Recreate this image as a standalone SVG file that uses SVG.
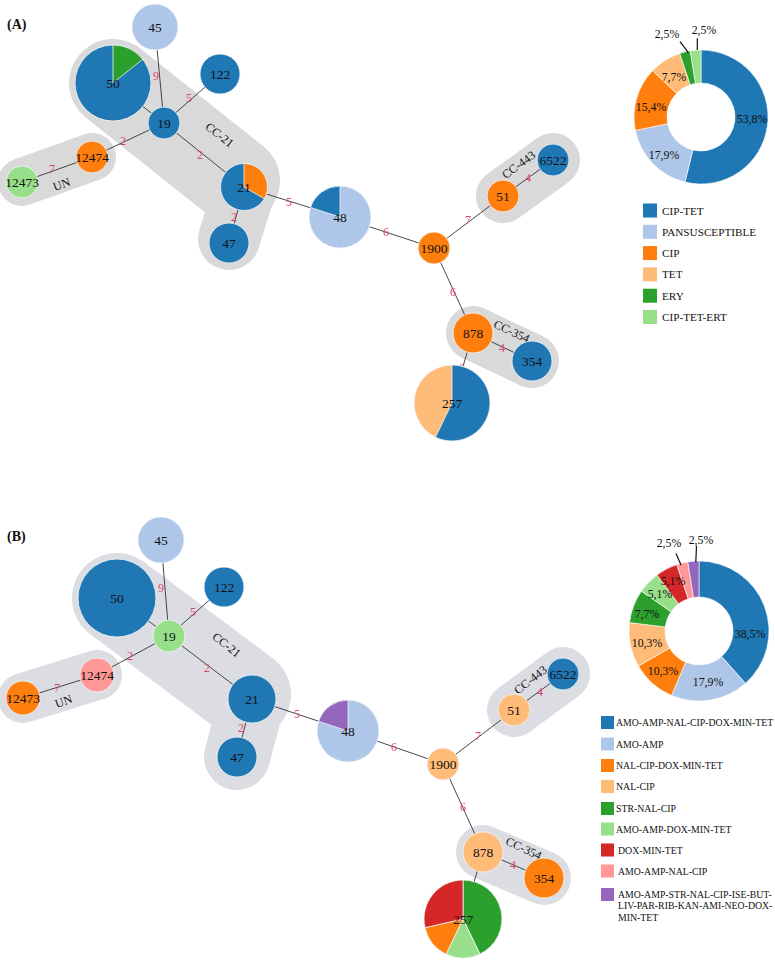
<svg xmlns="http://www.w3.org/2000/svg" width="775" height="964" viewBox="0 0 775 964" font-family="'Liberation Serif', serif">
<style>
text{font-family:"Liberation Serif",serif;fill:#111}
.pl{font-size:14px;font-weight:bold}
.nl{font-size:13.5px;text-anchor:middle}
.el{font-size:12px;fill:#e0456b;text-anchor:middle}
.hl{font-size:12px;text-anchor:middle}
.pc{font-size:11.8px;text-anchor:middle}
.lgA{font-size:11.2px}
.lgB{font-size:9.8px}
.e{stroke:#333;stroke-width:0.9;fill:none}
.hA{stroke:#d9d9d9;fill:none;stroke-linecap:round;stroke-linejoin:round}
.hB{stroke:#dcdde2;fill:none;stroke-linecap:round;stroke-linejoin:round}
.n circle,.n path{stroke:#f2f5f8;stroke-width:0.8}
.s path{stroke:#fff;stroke-width:0.6}
.db{fill:#1f77b4}.lb{fill:#aec7e8}.or{fill:#ff7f0e}.lo{fill:#ffbb78}
.gr{fill:#2ca02c}.lg{fill:#98df8a}.rd{fill:#d62728}.pk{fill:#ff9896}.pu{fill:#9467bd}
.ld{stroke:#111;stroke-width:1.2}
</style>

<!-- ================= PANEL A ================= -->
<text class="pl" x="7" y="29">(A)</text>
<g id="hulls-A">
  <path class="hA" stroke-width="88" d="M113,83 L236,180.7"/>
  <path class="hA" stroke-width="62" d="M246,185 L229,239"/>
  <path class="hA" stroke-width="48" d="M22,182 L92,157"/>
  <path class="hA" stroke-width="54" d="M503,196 L553,160"/>
  <path class="hA" stroke-width="54" d="M473,333 L532,361"/>
</g>
<g id="connectors-A">
  <line class="e" x1="155" y1="27" x2="164" y2="123"/>
  <line class="e" x1="113" y1="83" x2="164" y2="123"/>
  <line class="e" x1="220" y1="74" x2="164" y2="123"/>
  <line class="e" x1="164" y1="123" x2="92" y2="157"/>
  <line class="e" x1="92" y1="157" x2="22" y2="182"/>
  <line class="e" x1="164" y1="123" x2="244" y2="187"/>
  <line class="e" x1="244" y1="187" x2="229" y2="243"/>
  <line class="e" x1="244" y1="187" x2="340" y2="217"/>
  <line class="e" x1="340" y1="217" x2="434" y2="248"/>
  <line class="e" x1="434" y1="248" x2="503" y2="196"/>
  <line class="e" x1="503" y1="196" x2="553" y2="160"/>
  <line class="e" x1="434" y1="248" x2="473" y2="333"/>
  <line class="e" x1="473" y1="333" x2="532" y2="361"/>
  <line class="e" x1="473" y1="333" x2="452" y2="403"/>
</g>
<g id="hull-labels-A">
  <text class="hl" transform="translate(217,138) rotate(38)">CC-21</text>
  <text class="hl" transform="translate(63,188) rotate(-20)">UN</text>
  <text class="hl" transform="translate(521,168) rotate(-36)">CC-443</text>
  <text class="hl" transform="translate(510,335) rotate(25)">CC-354</text>
</g>
<g id="edge-labels-A">
  <text class="el" x="156" y="80">9</text>
  <text class="el" x="135" y="108">2</text>
  <text class="el" x="189" y="102">5</text>
  <text class="el" x="123" y="145">2</text>
  <text class="el" x="52" y="173">7</text>
  <text class="el" x="200" y="159">2</text>
  <text class="el" x="234" y="221">2</text>
  <text class="el" x="289" y="206">5</text>
  <text class="el" x="386" y="236">6</text>
  <text class="el" x="468" y="224">7</text>
  <text class="el" x="528" y="182">4</text>
  <text class="el" x="453" y="296">6</text>
  <text class="el" x="502" y="352">4</text>
  <text class="el" x="462" y="372">6</text>
</g>
<g id="A-45" class="n"><circle class="lb" cx="155" cy="27" r="23"/><text class="nl" x="155" y="31.5">45</text></g>
<g id="A-50" class="n"><circle class="db" cx="113" cy="83" r="38"/><path class="gr" d="M113,83 L113,45 A38,38 0 0 1 142.71,59.31 Z"/><text class="nl" x="113" y="87.5">50</text></g>
<g id="A-122" class="n"><circle class="db" cx="220" cy="74" r="20"/><text class="nl" x="220" y="78.5">122</text></g>
<g id="A-19" class="n"><circle class="db" cx="164" cy="123" r="16"/><text class="nl" x="164" y="127.5">19</text></g>
<g id="A-12474" class="n"><circle class="or" cx="92" cy="157" r="16"/><text class="nl" x="92" y="161.5">12474</text></g>
<g id="A-12473" class="n"><circle class="lg" cx="22" cy="182" r="16"/><text class="nl" x="22" y="186.5">12473</text></g>
<g id="A-21" class="n"><circle class="db" cx="244" cy="187" r="23.5"/><path class="or" d="M244,187 L244,163.5 A23.5,23.5 0 0 1 264.35,198.75 Z"/><text class="nl" x="244" y="191.5">21</text></g>
<g id="A-47" class="n"><circle class="db" cx="229" cy="243" r="20"/><text class="nl" x="229" y="247.5">47</text></g>
<g id="A-48" class="n"><circle class="lb" cx="340" cy="217" r="31"/><path class="db" d="M340,217 L310.52,207.42 A31,31 0 0 1 340,186 Z"/><text class="nl" x="340" y="221.5">48</text></g>
<g id="A-1900" class="n"><circle class="or" cx="434" cy="248" r="16"/><text class="nl" x="434" y="252.5">1900</text></g>
<g id="A-51" class="n"><circle class="or" cx="503" cy="196" r="16"/><text class="nl" x="503" y="200.5">51</text></g>
<g id="A-6522" class="n"><circle class="db" cx="553" cy="160" r="16"/><text class="nl" x="553" y="164.5">6522</text></g>
<g id="A-878" class="n"><circle class="or" cx="473" cy="333" r="20"/><text class="nl" x="473" y="337.5">878</text></g>
<g id="A-354" class="n"><circle class="db" cx="532" cy="361" r="20"/><text class="nl" x="532" y="365.5">354</text></g>
<g id="A-257" class="n"><circle class="lo" cx="452" cy="403" r="38"/><path class="db" d="M452,403 L452,365 A38,38 0 1 1 435.51,437.24 Z"/><text class="nl" x="452" y="407.5">257</text></g>

<g id="donut-A" class="s">
  <path class="db" d="M701,50 A67,67 0 1 1 684.96,182.05 L692.86,150.01 A34,34 0 1 0 701,83 Z"/>
  <path class="lb" d="M684.96,182.05 A67,67 0 0 1 635.35,130.40 L667.69,123.80 A34,34 0 0 0 692.86,150.01 Z"/>
  <path class="or" d="M635.35,130.40 A67,67 0 0 1 652.67,70.60 L676.48,93.45 A34,34 0 0 0 667.69,123.80 Z"/>
  <path class="lo" d="M652.67,70.60 A67,67 0 0 1 679.78,53.45 L690.23,84.75 A34,34 0 0 0 676.48,93.45 Z"/>
  <path class="gr" d="M679.78,53.45 A67,67 0 0 1 690.25,50.86 L695.55,83.44 A34,34 0 0 0 690.23,84.75 Z"/>
  <path class="lg" d="M690.25,50.86 A67,67 0 0 1 701,50 L701,83 A34,34 0 0 0 695.55,83.44 Z"/>
  <line class="ld" x1="680" y1="41.7" x2="688.3" y2="52.7"/>
  <line class="ld" x1="697.3" y1="38.3" x2="697.3" y2="50"/>
  <text class="pc" x="752" y="123">53,8%</text>
  <text class="pc" x="664" y="159">17,9%</text>
  <text class="pc" x="651" y="111">15,4%</text>
  <text class="pc" x="674" y="81">7,7%</text>
  <text class="pc" x="667" y="38">2,5%</text>
  <text class="pc" x="704" y="34">2,5%</text>
</g>
<g id="legend-A">
  <rect class="db" x="643" y="203.5" width="14" height="14"/><text class="lgA" x="662" y="214.5">CIP-TET</text>
  <rect class="lb" x="643" y="224.8" width="14" height="14"/><text class="lgA" x="662" y="235.8">PANSUSCEPTIBLE</text>
  <rect class="or" x="643" y="246.1" width="14" height="14"/><text class="lgA" x="662" y="257.1">CIP</text>
  <rect class="lo" x="643" y="267.4" width="14" height="14"/><text class="lgA" x="662" y="278.4">TET</text>
  <rect class="gr" x="643" y="288.7" width="14" height="14"/><text class="lgA" x="662" y="299.7">ERY</text>
  <rect class="lg" x="643" y="310" width="14" height="14"/><text class="lgA" x="662" y="321">CIP-TET-ERT</text>
</g>

<!-- ================= PANEL B ================= -->
<text class="pl" x="7" y="541">(B)</text>
<g id="hulls-B">
  <path class="hB" stroke-width="90" d="M117,598 L246,694.5"/>
  <path class="hB" stroke-width="66" d="M253,697 L237,757"/>
  <path class="hB" stroke-width="50" d="M23,698 L97,675"/>
  <path class="hB" stroke-width="54" d="M514,710 L563,674"/>
  <path class="hB" stroke-width="54" d="M483,852 L544,878"/>
</g>
<g id="connectors-B">
  <line class="e" x1="161" y1="540" x2="169" y2="636"/>
  <line class="e" x1="117" y1="598" x2="169" y2="636"/>
  <line class="e" x1="224" y1="587" x2="169" y2="636"/>
  <line class="e" x1="169" y1="636" x2="97" y2="675"/>
  <line class="e" x1="97" y1="675" x2="23" y2="698"/>
  <line class="e" x1="169" y1="636" x2="252" y2="699"/>
  <line class="e" x1="252" y1="699" x2="237" y2="757"/>
  <line class="e" x1="252" y1="699" x2="348" y2="731"/>
  <line class="e" x1="348" y1="731" x2="443" y2="764"/>
  <line class="e" x1="443" y1="764" x2="514" y2="710"/>
  <line class="e" x1="514" y1="710" x2="563" y2="674"/>
  <line class="e" x1="443" y1="764" x2="483" y2="852"/>
  <line class="e" x1="483" y1="852" x2="544" y2="878"/>
  <line class="e" x1="483" y1="852" x2="463" y2="919"/>
</g>
<g id="hull-labels-B">
  <text class="hl" transform="translate(224,648) rotate(38)">CC-21</text>
  <text class="hl" transform="translate(65,705) rotate(-20)">UN</text>
  <text class="hl" transform="translate(533,683) rotate(-38)">CC-443</text>
  <text class="hl" transform="translate(522,852) rotate(25)">CC-354</text>
</g>
<g id="edge-labels-B">
  <text class="el" x="161" y="592">9</text>
  <text class="el" x="139" y="621">2</text>
  <text class="el" x="193" y="616">5</text>
  <text class="el" x="130" y="660">2</text>
  <text class="el" x="57" y="692">7</text>
  <text class="el" x="207" y="672">2</text>
  <text class="el" x="241" y="732">2</text>
  <text class="el" x="297" y="718">5</text>
  <text class="el" x="394" y="751">6</text>
  <text class="el" x="478" y="740">7</text>
  <text class="el" x="540" y="696">4</text>
  <text class="el" x="463" y="811">6</text>
  <text class="el" x="513" y="869">4</text>
  <text class="el" x="473" y="890">6</text>
</g>
<g id="B-45" class="n"><circle class="lb" cx="161" cy="540" r="23"/><text class="nl" x="161" y="544.5">45</text></g>
<g id="B-50" class="n"><circle class="db" cx="117" cy="598" r="39"/><text class="nl" x="117" y="602.5">50</text></g>
<g id="B-122" class="n"><circle class="db" cx="224" cy="587" r="20"/><text class="nl" x="224" y="591.5">122</text></g>
<g id="B-19" class="n"><circle class="lg" cx="169" cy="636" r="16"/><text class="nl" x="169" y="640.5">19</text></g>
<g id="B-12474" class="n"><circle class="pk" cx="97" cy="675" r="17"/><text class="nl" x="97" y="679.5">12474</text></g>
<g id="B-12473" class="n"><circle class="or" cx="23" cy="698" r="17"/><text class="nl" x="23" y="702.5">12473</text></g>
<g id="B-21" class="n"><circle class="db" cx="252" cy="699" r="24"/><text class="nl" x="252" y="703.5">21</text></g>
<g id="B-47" class="n"><circle class="db" cx="237" cy="757" r="20"/><text class="nl" x="237" y="761.5">47</text></g>
<g id="B-48" class="n"><circle class="lb" cx="348" cy="731" r="31"/><path class="pu" d="M348,731 L318.52,721.42 A31,31 0 0 1 348,700 Z"/><text class="nl" x="348" y="735.5">48</text></g>
<g id="B-1900" class="n"><circle class="lo" cx="443" cy="764" r="16"/><text class="nl" x="443" y="768.5">1900</text></g>
<g id="B-51" class="n"><circle class="lo" cx="514" cy="710" r="16"/><text class="nl" x="514" y="714.5">51</text></g>
<g id="B-6522" class="n"><circle class="db" cx="563" cy="674" r="16"/><text class="nl" x="563" y="678.5">6522</text></g>
<g id="B-878" class="n"><circle class="lo" cx="483" cy="852" r="20"/><text class="nl" x="483" y="856.5">878</text></g>
<g id="B-354" class="n"><circle class="or" cx="544" cy="878" r="20"/><text class="nl" x="544" y="882.5">354</text></g>
<g id="B-257" class="n">
  <path class="gr" d="M463,919 L463,880 A39,39 0 0 1 479.92,954.14 Z"/>
  <path class="lg" d="M463,919 L479.92,954.14 A39,39 0 0 1 446.08,954.14 Z"/>
  <path class="or" d="M463,919 L446.08,954.14 A39,39 0 0 1 424.98,927.68 Z"/>
  <path class="rd" d="M463,919 L424.98,927.68 A39,39 0 0 1 463,880 Z"/>
  <text class="nl" x="463" y="923.5">257</text>
</g>

<g id="donut-B" class="s">
  <path class="db" d="M699,561 A70,70 0 0 1 745.42,683.40 L721.55,656.45 A34,34 0 0 0 699,597 Z"/>
  <path class="lb" d="M745.42,683.40 A70,70 0 0 1 671.56,695.40 L685.67,662.28 A34,34 0 0 0 721.55,656.45 Z"/>
  <path class="or" d="M671.56,695.40 A70,70 0 0 1 638.38,666.00 L669.56,648.00 A34,34 0 0 0 685.67,662.28 Z"/>
  <path class="lo" d="M638.38,666.00 A70,70 0 0 1 629.51,622.57 L665.25,626.90 A34,34 0 0 0 669.56,648.00 Z"/>
  <path class="gr" d="M629.51,622.57 A70,70 0 0 1 641.39,591.23 L671.02,611.68 A34,34 0 0 0 665.25,626.90 Z"/>
  <path class="lg" d="M641.39,591.23 A70,70 0 0 1 656.96,575.04 L678.58,603.82 A34,34 0 0 0 671.02,611.68 Z"/>
  <path class="rd" d="M656.96,575.04 A70,70 0 0 1 676.83,564.61 L688.23,598.75 A34,34 0 0 0 678.58,603.82 Z"/>
  <path class="pk" d="M676.83,564.61 A70,70 0 0 1 687.77,561.90 L693.55,597.44 A34,34 0 0 0 688.23,598.75 Z"/>
  <path class="pu" d="M687.77,561.90 A70,70 0 0 1 699,561 L699,597 A34,34 0 0 0 693.55,597.44 Z"/>
  <line class="ld" x1="676" y1="553.5" x2="681" y2="565"/>
  <line class="ld" x1="696.5" y1="546" x2="695.8" y2="562"/>
  <text class="pc" x="750" y="638">38,5%</text>
  <text class="pc" x="708" y="686">17,9%</text>
  <text class="pc" x="663" y="675">10,3%</text>
  <text class="pc" x="647" y="647">10,3%</text>
  <text class="pc" x="647" y="618">7,7%</text>
  <text class="pc" x="660" y="598">5,1%</text>
  <text class="pc" x="673" y="585">5,1%</text>
  <text class="pc" x="669" y="547">2,5%</text>
  <text class="pc" x="701" y="544">2,5%</text>
</g>
<g id="legend-B">
  <rect class="db" x="601" y="716" width="13" height="13"/><text class="lgB" x="616" y="726">AMO-AMP-NAL-CIP-DOX-MIN-TET</text>
  <rect class="lb" x="601" y="737.5" width="13" height="13"/><text class="lgB" x="616" y="747.5">AMO-AMP</text>
  <rect class="or" x="601" y="759" width="13" height="13"/><text class="lgB" x="616" y="769">NAL-CIP-DOX-MIN-TET</text>
  <rect class="lo" x="601" y="780" width="13" height="13"/><text class="lgB" x="616" y="790">NAL-CIP</text>
  <rect class="gr" x="601" y="802" width="13" height="13"/><text class="lgB" x="616" y="812">STR-NAL-CIP</text>
  <rect class="lg" x="601" y="822.5" width="13" height="13"/><text class="lgB" x="616" y="832.5">AMO-AMP-DOX-MIN-TET</text>
  <rect class="rd" x="601" y="843.5" width="13" height="13"/><text class="lgB" x="618" y="853.5">DOX-MIN-TET</text>
  <rect class="pk" x="601" y="864.5" width="13" height="13"/><text class="lgB" x="618" y="874.5">AMO-AMP-NAL-CIP</text>
  <rect class="pu" x="601" y="888" width="13" height="13"/>
  <text class="lgB" x="618" y="897.5">AMO-AMP-STR-NAL-CIP-ISE-BUT-</text>
  <text class="lgB" x="618" y="909.2">LIV-PAR-RIB-KAN-AMI-NEO-DOX-</text>
  <text class="lgB" x="618" y="920.9">MIN-TET</text>
</g>
</svg>
